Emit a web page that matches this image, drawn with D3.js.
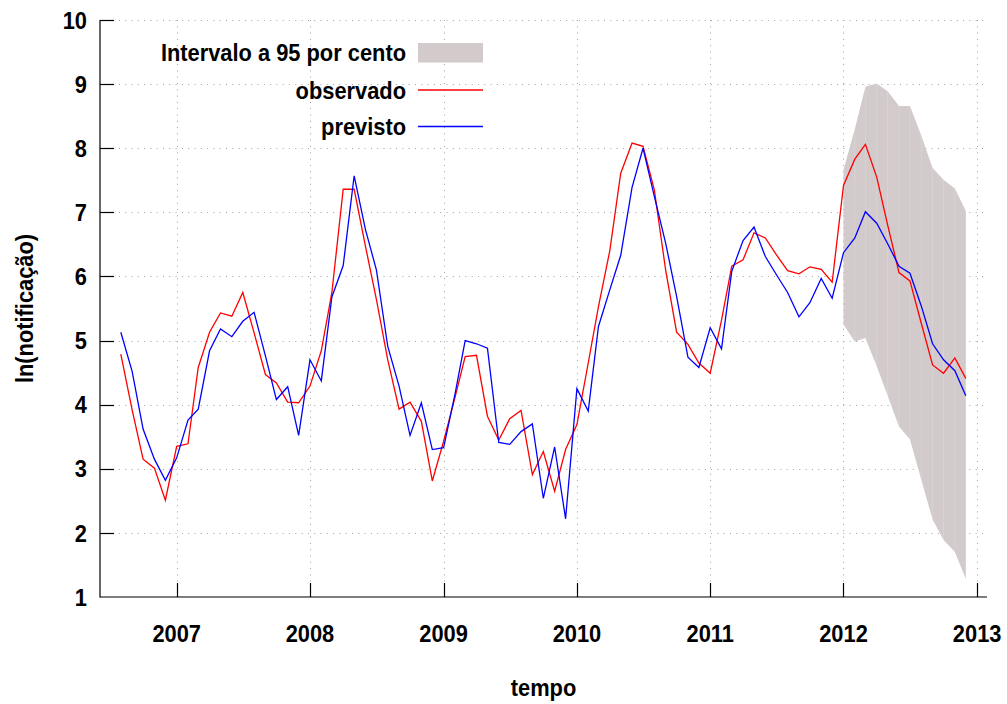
<!DOCTYPE html>
<html>
<head>
<meta charset="utf-8">
<script src="https://cdn.jsdelivr.net/npm/d3@7"></script>
<style>
  body { margin: 0; background: #fff; }
  svg { display: block; }
  text { font-family: "Liberation Sans", Arial, sans-serif; font-weight: bold; fill: #000; }
</style>
</head>
<body>
<svg id="chart"></svg>
<script>
// months Aug 2006 .. Dec 2012
const meses = [
  "2006-08","2006-09","2006-10","2006-11","2006-12",
  "2007-01","2007-02","2007-03","2007-04","2007-05","2007-06","2007-07","2007-08","2007-09","2007-10","2007-11","2007-12",
  "2008-01","2008-02","2008-03","2008-04","2008-05","2008-06","2008-07","2008-08","2008-09","2008-10","2008-11","2008-12",
  "2009-01","2009-02","2009-03","2009-04","2009-05","2009-06","2009-07","2009-08","2009-09","2009-10","2009-11","2009-12",
  "2010-01","2010-02","2010-03","2010-04","2010-05","2010-06","2010-07","2010-08","2010-09","2010-10","2010-11","2010-12",
  "2011-01","2011-02","2011-03","2011-04","2011-05","2011-06","2011-07","2011-08","2011-09","2011-10","2011-11","2011-12",
  "2012-01","2012-02","2012-03","2012-04","2012-05","2012-06","2012-07","2012-08","2012-09","2012-10","2012-11","2012-12"
];

const observado = [
  4.79, 3.92, 3.15, 3.01, 2.51,
  3.35, 3.39, 4.58, 5.13, 5.43, 5.38, 5.75, 5.12, 4.47, 4.34, 4.04, 4.03,
  4.29, 4.84, 5.75, 7.36, 7.36, 6.47, 5.64, 4.70, 3.93, 4.04, 3.74, 2.81,
  3.43, 4.11, 4.75, 4.77, 3.82, 3.45, 3.78, 3.91, 2.91, 3.27, 2.65, 3.30,
  3.69, 4.65, 5.53, 6.40, 7.61, 8.08, 8.03, 7.35, 6.10, 5.13, 4.94, 4.65,
  4.49, 5.32, 6.16, 6.26, 6.68, 6.60, 6.34, 6.09, 6.04, 6.15, 6.11, 5.91,
  7.42, 7.83, 8.06, 7.55, 6.80, 6.06, 5.93, 5.27, 4.62, 4.49, 4.73, 4.41
];

const previsto = [
  5.13, 4.52, 3.62, 3.15, 2.82,
  3.17, 3.76, 3.93, 4.84, 5.18, 5.06, 5.30, 5.44, 4.76, 4.08, 4.28, 3.52,
  4.70, 4.37, 5.68, 6.17, 7.57, 6.73, 6.10, 4.91, 4.29, 3.52, 4.03, 3.30,
  3.33, 4.16, 5.00, 4.95, 4.88, 3.41, 3.38, 3.58, 3.70, 2.54, 3.34, 2.22,
  4.25, 3.90, 5.22, 5.79, 6.33, 7.39, 8.00, 7.25, 6.52, 5.69, 4.74, 4.58,
  5.20, 4.87, 6.08, 6.56, 6.77, 6.31, 6.03, 5.75, 5.37, 5.59, 5.97, 5.66,
  6.37, 6.60, 7.01, 6.83, 6.51, 6.16, 6.05, 5.54, 4.95, 4.70, 4.53, 4.14
];

// 95% interval, Jan 2012 .. Dec 2012
const mesesIntervalo = meses.slice(-12);
const limiteInferior = [5.25, 4.98, 5.04, 4.60, 4.14, 3.66, 3.46, 2.83, 2.21, 1.89, 1.70, 1.28];
const limiteSuperior = [7.66, 8.30, 8.96, 9.01, 8.89, 8.66, 8.66, 8.20, 7.69, 7.51, 7.37, 7.02];

const anos = [2007, 2008, 2009, 2010, 2011, 2012, 2013];
const yTicks = [1, 2, 3, 4, 5, 6, 7, 8, 9, 10];

const legenda = ["Intervalo a 95 por cento", "observado", "previsto"];

const width = 1007, height = 704;
const margin = { top: 20, right: 20, bottom: 107, left: 100 };
const SX = 0.91;      // horizontal squeeze of the text
const FS = 24;

const parse = d3.timeParse("%Y-%m");

const svg = d3.select("#chart")
  .attr("width", width)
  .attr("height", height);

const x = d3.scaleTime()
  .domain([new Date(2006, 5, 5), new Date(2013, 0, 28)])
  .range([margin.left, width - margin.right]);

const y = d3.scaleLinear()
  .domain([1, 10])
  .range([height - margin.bottom, margin.top]);

const x0 = x.range()[0], x1 = x.range()[1];
const y0 = y.range()[0], y1 = y.range()[1];

function label(g, txt, tx, ty, anchor, rot) {
  const t = g.append("g")
    .attr("transform", `translate(${tx},${ty})` + (rot ? ` rotate(${rot})` : "") + ` scale(${SX},1)`);
  t.append("text")
    .attr("text-anchor", anchor)
    .style("font-size", FS + "px")
    .text(txt);
}

// grid
const grid = svg.append("g")
  .attr("stroke", "#a0a0a0")
  .attr("stroke-width", 1)
  .attr("stroke-dasharray", "1,5.3");

grid.selectAll(".gy")
  .data(yTicks.filter(d => d > 1))
  .enter()
  .append("line")
  .attr("x1", x0).attr("x2", x1)
  .attr("y1", d => Math.round(y(d)) + 0.5)
  .attr("y2", d => Math.round(y(d)) + 0.5);

grid.selectAll(".gx")
  .data(anos)
  .enter()
  .append("line")
  .attr("x1", d => Math.round(x(new Date(d, 0, 1))) + 0.5)
  .attr("x2", d => Math.round(x(new Date(d, 0, 1))) + 0.5)
  .attr("y1", y1).attr("y2", y0);

// interval band
const banda = mesesIntervalo.map((m, i) => ({ t: parse(m), lo: limiteInferior[i], hi: limiteSuperior[i] }));

svg.append("path")
  .datum(banda)
  .attr("fill", "#d2cacb")
  .attr("d", d3.area()
    .x(d => x(d.t))
    .y0(d => y(d.lo))
    .y1(d => y(d.hi)));

svg.append("g")
  .selectAll("line")
  .data(banda.slice(1, -1))
  .enter()
  .append("line")
  .attr("x1", d => x(d.t)).attr("x2", d => x(d.t))
  .attr("y1", d => y(d.lo)).attr("y2", d => y(d.hi))
  .attr("stroke", "#fff")
  .attr("stroke-opacity", 0.18)
  .attr("stroke-width", 1);

// series
const linha = d3.line()
  .x(d => x(d.t))
  .y(d => y(d.v));

const obs = meses.map((m, i) => ({ t: parse(m), v: observado[i] }));
const prev = meses.map((m, i) => ({ t: parse(m), v: previsto[i] }));

svg.append("path")
  .datum(obs)
  .attr("fill", "none")
  .attr("stroke", "#ff0000")
  .attr("stroke-width", 1.3)
  .attr("d", linha);

svg.append("path")
  .datum(prev)
  .attr("fill", "none")
  .attr("stroke", "#0000ff")
  .attr("stroke-width", 1.3)
  .attr("d", linha);

// axes
const ax = svg.append("g").attr("stroke", "#000").attr("stroke-width", 1.2);

ax.append("line").attr("x1", x0).attr("x2", x0).attr("y1", y1).attr("y2", y0 + 0.5);
ax.append("line").attr("x1", x0).attr("x2", x1).attr("y1", y0).attr("y2", y0);

ax.selectAll(".ty")
  .data(yTicks.filter(d => d > 1))
  .enter()
  .append("line")
  .attr("x1", x0).attr("x2", x0 + 14)
  .attr("y1", d => Math.round(y(d)) + 0.5)
  .attr("y2", d => Math.round(y(d)) + 0.5);

ax.selectAll(".tx")
  .data(anos)
  .enter()
  .append("line")
  .attr("x1", d => Math.round(x(new Date(d, 0, 1))) + 0.5)
  .attr("x2", d => Math.round(x(new Date(d, 0, 1))) + 0.5)
  .attr("y1", y0).attr("y2", y0 - 14);

// tick labels
const labels = svg.append("g");
yTicks.forEach(d => label(labels, d3.format("d")(d), 87, y(d) + 8.7, "end"));
anos.forEach(d => label(labels, String(d), x(new Date(d, 0, 1)), 642, "middle"));

// axis titles
label(labels, "tempo", (x0 + x1) / 2, 696, "middle");
label(labels, "ln(notificação)", 33, (y0 + y1) / 2, "middle", -90);

// legend
const leg = svg.append("g");
const legX = 418, legW = 65, legRows = [52.5, 90, 126.5];

leg.append("rect")
  .attr("x", legX).attr("y", legRows[0] - 9.5)
  .attr("width", legW).attr("height", 19.5)
  .attr("fill", "#d2cacb");

leg.append("line")
  .attr("x1", legX).attr("x2", legX + legW)
  .attr("y1", legRows[1]).attr("y2", legRows[1])
  .attr("stroke", "#ff0000").attr("stroke-width", 1.3);

leg.append("line")
  .attr("x1", legX).attr("x2", legX + legW)
  .attr("y1", legRows[2]).attr("y2", legRows[2])
  .attr("stroke", "#0000ff").attr("stroke-width", 1.3);

legenda.forEach((txt, i) => label(leg, txt, 406, legRows[i] + 8.7, "end"));
</script>
</body>
</html>
